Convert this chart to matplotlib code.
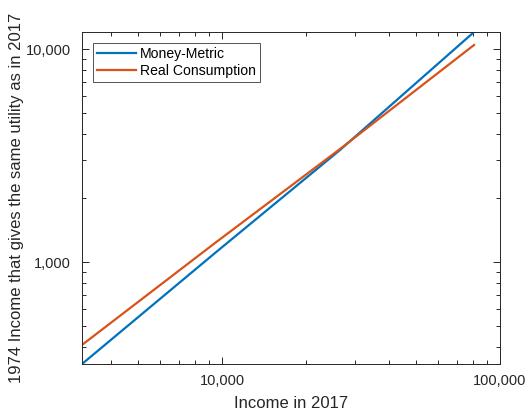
import matplotlib
matplotlib.use("Agg")
import matplotlib.pyplot as plt
from matplotlib.ticker import FixedLocator, FixedFormatter, LogLocator, NullFormatter

plt.rcParams['font.family'] = ['Liberation Sans', 'DejaVu Sans']

# income in 2017 and the 1974 income giving the same utility
income_2017 = [3136, 9436, 26580, 80650]
money_metric = [332, 1102, 3357, 12018]
real_consumption = [408, 1228, 3393, 10443]

x_ticks = [10000, 100000]
x_tick_labels = ['10,000', '100,000']
y_ticks = [1000, 10000]
y_tick_labels = ['1,000', '10,000']

axis_col = '#262626'

fig = plt.figure(figsize=(5.3, 4.11), dpi=100)
ax = fig.add_axes([82 / 530, 1 - 364 / 411, (500 - 82) / 530, (364 - 32) / 411])

ax.loglog(income_2017, money_metric, color='#0072BD', lw=1.6, label='Money-Metric')
ax.loglog(income_2017, real_consumption, color='#D95319', lw=1.6, label='Real Consumption')

ax.set_xlim(3136, 100000)
ax.set_ylim(332, 12018)

ax.xaxis.set_major_locator(FixedLocator(x_ticks))
ax.xaxis.set_major_formatter(FixedFormatter(x_tick_labels))
ax.yaxis.set_major_locator(FixedLocator(y_ticks))
ax.yaxis.set_major_formatter(FixedFormatter(y_tick_labels))
for axis in (ax.xaxis, ax.yaxis):
    axis.set_minor_locator(LogLocator(base=10, subs=range(2, 10)))
    axis.set_minor_formatter(NullFormatter())

ax.tick_params(which='both', direction='in', top=True, right=True,
               color=axis_col, labelcolor=axis_col, labelsize=10.5, width=0.7)
ax.tick_params(which='major', length=5)
ax.tick_params(which='minor', length=3)
ax.tick_params(axis='x', which='major', pad=7)
ax.tick_params(axis='y', which='major', pad=8)
for s in ax.spines.values():
    s.set_color(axis_col)
    s.set_linewidth(0.7)

ax.set_xlabel('Income in 2017', fontsize=12, color=axis_col, labelpad=6)
ax.set_ylabel('1974 Income that gives the same utility as in 2017', fontsize=12,
              color=axis_col, labelpad=1)

leg = ax.legend(loc='upper left', fontsize=10.1, frameon=True, fancybox=False,
                borderaxespad=0.75, handlelength=2.8, handletextpad=0.25,
                borderpad=0.3, labelspacing=0.25)
leg.get_frame().set_edgecolor(axis_col)
leg.get_frame().set_linewidth(0.7)
for t in leg.get_texts():
    t.set_color('black')

fig.savefig('out.png', dpi=100)
